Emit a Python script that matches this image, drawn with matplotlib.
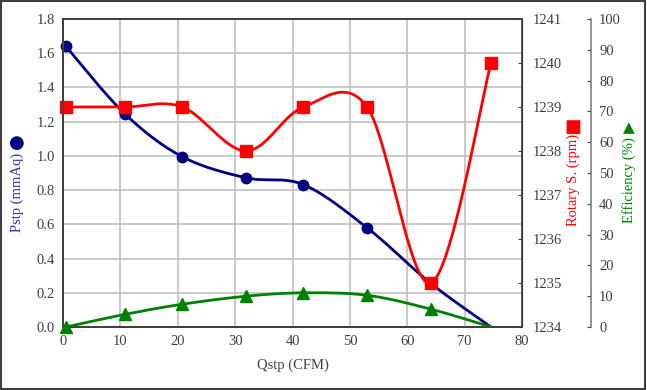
import numpy as np
import matplotlib
matplotlib.use("Agg")
import matplotlib.pyplot as plt
from matplotlib.patches import Rectangle

# ─────────────────────────────────────────────
# DATA
# ─────────────────────────────────────────────
qstp = [0.5, 10.8, 20.8, 31.9, 41.9, 53.0, 64.1, 74.6]          # CFM
pstp = [1.64, 1.245, 0.995, 0.872, 0.832, 0.580, 0.255, 0.0]    # mmAq
rpm = [1239, 1239, 1239, 1238, 1239, 1239, 1235, 1240]          # rpm
eff = [0.0, 4.1, 7.4, 10.0, 11.1, 10.3, 5.8, 0.0]               # %

x_ticks = list(range(0, 90, 10))
p_ticks = [0.0, 0.2, 0.4, 0.6, 0.8, 1.0, 1.2, 1.4, 1.6, 1.8]
rpm_ticks = list(range(1234, 1242))
eff_ticks = list(range(0, 110, 10))

TXT = "#404040"
FONT = ["Liberation Serif", "DejaVu Serif"]
plt.rcParams["font.family"] = FONT
plt.rcParams["font.size"] = 10.5


def excel_smooth(x, y, n=40):
    """Bezier smoothing like Excel's 'smoothed line' (control points at 1/6)."""
    p = np.column_stack([x, y]).astype(float)
    pts = np.vstack([p[0], p, p[-1]])
    out = []
    t = np.linspace(0, 1, n)[:, None]
    for i in range(1, len(pts) - 2):
        p0, p3 = pts[i], pts[i + 1]
        c1 = p0 + (pts[i + 1] - pts[i - 1]) / 6.0
        c2 = p3 - (pts[i + 2] - pts[i]) / 6.0
        seg = ((1 - t) ** 3) * p0 + 3 * ((1 - t) ** 2) * t * c1 + 3 * (1 - t) * t ** 2 * c2 + t ** 3 * p3
        out.append(seg if i == 1 else seg[1:])
    out = np.vstack(out)
    return out[:, 0], out[:, 1]


fig = plt.figure(figsize=(6.47, 3.90), dpi=100)
fig.patches.append(Rectangle((0.002, 0.003), 0.995, 0.994, transform=fig.transFigure,
                             fill=False, edgecolor="#404040", linewidth=1.5))
ax = fig.add_axes([63 / 647, 1 - 327 / 390, (522 - 63) / 647, (327 - 19) / 390])
ax2 = ax.twinx()
ax3 = ax.twinx()

# ---- Pstp (left axis)
sx, sy = excel_smooth(qstp, pstp)
ax.plot(sx, sy, color="#000080", linewidth=2.0, zorder=3)
ax.plot(qstp[:-1], pstp[:-1], "o", color="#000080", markersize=7.5, zorder=4, clip_on=False)
ax.set_xlim(0, 80)
ax.set_ylim(0, 1.8)
ax.set_xticks(x_ticks)
ax.set_yticks(p_ticks)
ax.set_yticklabels([f"{v:.1f}" for v in p_ticks])
ax.grid(True, color="#c0c0c0", linewidth=1.2)
ax.set_axisbelow(True)
ax.tick_params(axis="both", colors=TXT, length=0, labelsize=10.5, pad=6)
ax.set_xlabel("Qstp (CFM)", color=TXT, fontsize=10.5, labelpad=7)

# ---- Rotary speed (first right axis)
sx, sy = excel_smooth(qstp, rpm)
ax2.plot(sx, sy, color="#ff0000", linewidth=2.0, zorder=3)
ax2.plot(qstp, rpm, "s", color="#ff0000", markersize=8, zorder=4, clip_on=False)
ax2.set_ylim(1234, 1241)
ax2.set_yticks(rpm_ticks)
ax2.tick_params(axis="y", colors=TXT, direction="in", length=3, labelsize=10.5, pad=8)

# ---- Efficiency (second right axis, offset)
sx, sy = excel_smooth(qstp, eff)
ax3.plot(sx, sy, color="#008000", linewidth=2.0, zorder=3)
ax3.plot(qstp[:-1], eff[:-1], "^", color="#008000", markersize=8, zorder=4, clip_on=False)
ax3.set_ylim(0, 100)
ax3.set_yticks(eff_ticks)
ax3.spines["right"].set_position(("outward", 49.5))
ax3.spines["right"].set_color("#808080")
ax3.tick_params(axis="y", colors=TXT, direction="in", length=3, labelsize=10.5, pad=6)

for a in (ax, ax2, ax3):
    for s in ("left", "bottom", "top"):
        a.spines[s].set_color("#404040")
        a.spines[s].set_linewidth(1.2)
ax2.spines["right"].set_color("#404040")
ax2.spines["right"].set_linewidth(1.2)
ax3.spines["right"].set_linewidth(1.2)

# ---- axis titles with series symbols
def px(x, y):
    return x / 647, 1 - y / 390

fig.text(*px(17, 192), "Pstp (mmAq)", rotation=90, color="#3333aa", ha="center", va="center", fontsize=10.5)
fig.text(*px(17, 143), "●", color="#000080", ha="center", va="center",
         fontsize=13, family="DejaVu Sans")
fig.text(*px(573, 180), "Rotary S. (rpm)", rotation=90, color="#ff0000", ha="center", va="center", fontsize=10.5)
fig.text(*px(573, 127), "■", color="#ff0000", ha="center", va="center",
         fontsize=13, family="DejaVu Sans")
fig.text(*px(629, 180), "Efficiency (%)", rotation=90, color="#008000", ha="center", va="center", fontsize=10.5)
fig.text(*px(629, 128), "▲", color="#008000", ha="center", va="center",
         fontsize=11, family="DejaVu Sans")

fig.savefig("out.png", dpi=100)
